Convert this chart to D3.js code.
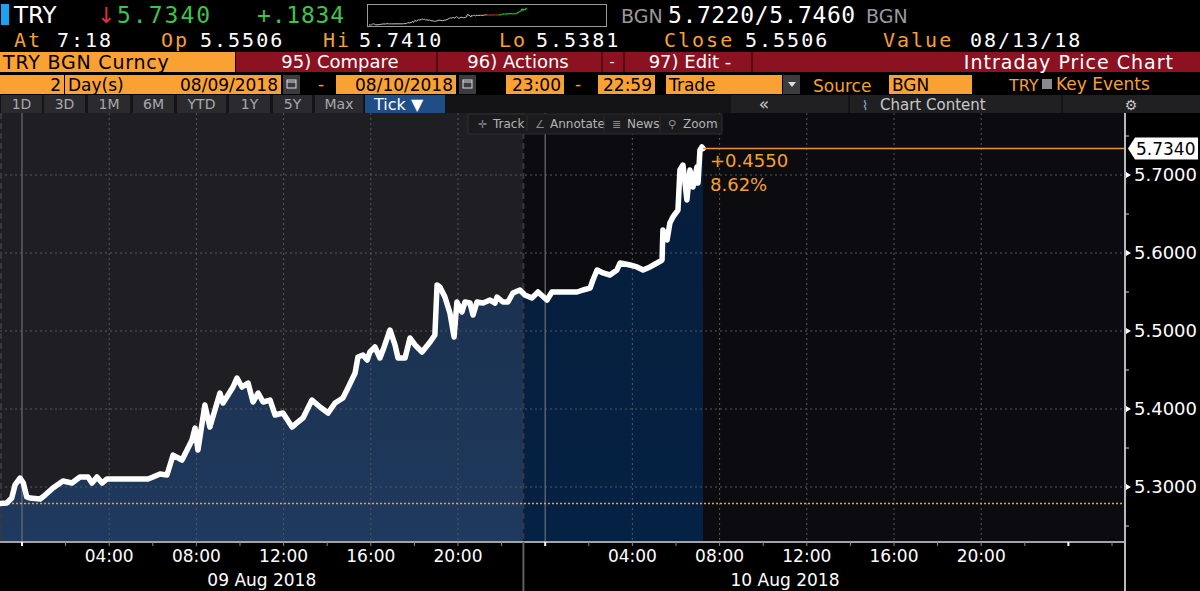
<!DOCTYPE html>
<html>
<head>
<meta charset="utf-8">
<script src="https://cdn.jsdelivr.net/npm/d3@7"></script>
<style>
  body { margin: 0; background: #000; }
  svg { display: block; }
  text { font-family: "DejaVu Sans", sans-serif; }
  .mono { font-family: "DejaVu Sans Mono", monospace; }
</style>
</head>
<body>
<svg width="1200" height="591"></svg>
<script>
// hours since 09 Aug 2018 00:00 and TRY BGN price
const hours = [-1.01,-0.70,-0.47,-0.32,-0.09,0.06,0.22,0.37,0.83,1.06,1.42,1.88,2.29,2.66,3.03,3.21,3.44,3.67,3.90,5.78,
  6.01,6.33,6.65,6.93,7.34,7.57,7.80,7.94,8.07,8.39,8.62,9.08,9.22,9.68,9.86,10.09,10.37,10.60,10.83,11.06,
  11.38,11.61,11.97,12.39,12.61,12.89,13.30,13.67,14.04,14.36,14.72,14.95,15.28,15.41,15.64,15.83,15.96,16.19,16.42,16.56,
  16.88,17.11,17.25,17.57,17.80,18.03,18.35,18.72,18.94,19.04,19.17,19.40,19.63,19.82,19.95,20.18,20.32,20.55,20.69,20.87,
  21.15,21.47,21.70,21.79,22.06,22.29,22.52,22.84,23.07,23.39,23.67,24.08,24.31,24.82,25.46,25.73,26.06,26.19,26.38,26.65,
  26.97,27.29,27.43,27.89,28.21,28.49,28.81,29.13,29.36,29.40,29.59,29.72,29.86,30.09,30.18,30.32,30.50,30.64,30.78,30.96,
  31.01,31.10,31.19,31.24];
const prices = [5.2790,5.2795,5.2859,5.3026,5.3115,5.3051,5.2872,5.2859,5.2846,5.2897,5.2987,5.3077,5.3051,5.3128,5.3128,5.3051,5.3128,5.3051,5.3103,5.3103,
  5.3128,5.3167,5.3154,5.3410,5.3346,5.3474,5.3603,5.3756,5.3474,5.4051,5.3769,5.4205,5.4077,5.4282,5.4397,5.4282,5.4333,5.4090,5.4205,5.4090,
  5.4115,5.3923,5.3949,5.3769,5.3821,5.3885,5.4115,5.4026,5.3949,5.4077,5.4141,5.4269,5.4462,5.4667,5.4692,5.4628,5.4731,5.4795,5.4654,5.4756,
  5.5013,5.4821,5.4654,5.4654,5.4910,5.4821,5.4731,5.4859,5.4949,5.5590,5.5564,5.5436,5.5231,5.4923,5.5372,5.5244,5.5372,5.5359,5.5205,5.5372,
  5.5359,5.5397,5.5359,5.5436,5.5372,5.5372,5.5487,5.5526,5.5462,5.5423,5.5500,5.5397,5.5500,5.5500,5.5500,5.5526,5.5551,5.5654,5.5782,5.5744,
  5.5718,5.5782,5.5872,5.5846,5.5821,5.5782,5.5821,5.5872,5.5910,5.6295,5.6167,5.6385,5.6462,5.6551,5.7064,5.7128,5.6679,5.7064,5.6846,5.7103,
  5.6897,5.7321,5.7359,5.7340];

const yTicks = [5.3, 5.4, 5.5, 5.6, 5.7];
const yMinor = [5.25, 5.35, 5.45, 5.55, 5.65, 5.75];
const xLabelHours = [4, 8, 12, 16, 20, 28, 32, 36, 40, 44];
const midnights = [0, 24];
const sessionStarts = [-1, 23];
const dayLabels = ["09 Aug 2018", "10 Aug 2018"];
const prevClose = 5.5506;
const lastPrice = 5.7340;
const netChange = "+0.4550";
const pctChange = "8.62%";

const data = d3.zip(hours, prices).map(d => ({h: d[0], v: d[1]}));
const startVal = data[0].v;
const last = data[data.length - 1];

const orange = '#f5a131';
const svg = d3.select('svg');

const pL = 0, pR = 1125, pT = 113, pB = 542;

const x = d3.scaleLinear().domain([-1.009, 50.596]).range([pL, pR]);
const y = d3.scaleLinear().domain([5.2295, 5.7795]).range([pB, pT]);

svg.append('rect').attr('width', 1200).attr('height', 591).attr('fill', '#000');

const defs = svg.append('defs');
const g1 = defs.append('linearGradient').attr('id', 'gA').attr('x1', 0).attr('x2', 0).attr('y1', 0).attr('y2', 1);
g1.append('stop').attr('offset', '0%').attr('stop-color', '#182c48');
g1.append('stop').attr('offset', '100%').attr('stop-color', '#1f3a5e');
const g2 = defs.append('linearGradient').attr('id', 'gB').attr('x1', 0).attr('x2', 0).attr('y1', 0).attr('y2', 1);
g2.append('stop').attr('offset', '0%').attr('stop-color', '#071d3b');
g2.append('stop').attr('offset', '100%').attr('stop-color', '#042244');

const split = x(sessionStarts[1]);
defs.append('clipPath').attr('id', 'cA').append('rect')
    .attr('x', pL).attr('y', pT).attr('width', split - pL).attr('height', pB - pT);
defs.append('clipPath').attr('id', 'cB').append('rect')
    .attr('x', split).attr('y', pT).attr('width', pR - split).attr('height', pB - pT);

// session backgrounds
svg.append('rect').attr('x', pL).attr('y', pT).attr('width', split - pL).attr('height', pB - pT).attr('fill', '#1f1e22');
svg.append('rect').attr('x', split).attr('y', pT).attr('width', pR - split).attr('height', pB - pT).attr('fill', '#0c0c10');

const area = d3.area().x(d => x(d.h)).y0(pB).y1(d => y(d.v));
svg.append('path').datum(data).attr('d', area).attr('fill', 'url(#gA)').attr('clip-path', 'url(#cA)');
svg.append('path').datum(data).attr('d', area).attr('fill', 'url(#gB)').attr('clip-path', 'url(#cB)');

// grid
svg.selectAll('.hgrid').data(yTicks).enter().append('line')
    .attr('x1', pL).attr('x2', pR).attr('y1', d => y(d)).attr('y2', d => y(d))
    .attr('stroke', '#56565c').attr('stroke-width', 1).attr('stroke-dasharray', '2,3');
svg.selectAll('.vgrid').data(xLabelHours).enter().append('line')
    .attr('x1', d => x(d)).attr('x2', d => x(d)).attr('y1', pT).attr('y2', pB)
    .attr('stroke', '#56565c').attr('stroke-width', 1).attr('stroke-dasharray', '2,3');
svg.selectAll('.mid').data(midnights).enter().append('line')
    .attr('x1', d => x(d)).attr('x2', d => x(d)).attr('y1', pT).attr('y2', pB)
    .attr('stroke', '#6e6e74').attr('stroke-width', 1.2);
svg.selectAll('.sess').data(sessionStarts).enter().append('line')
    .attr('x1', d => Math.max(x(d), 1)).attr('x2', d => Math.max(x(d), 1)).attr('y1', pT).attr('y2', pB)
    .attr('stroke', '#38383c').attr('stroke-width', 2).attr('stroke-dasharray', '6,4');

// start level
svg.append('line').attr('x1', pL).attr('x2', pR).attr('y1', y(startVal)).attr('y2', y(startVal))
    .attr('stroke', orange).attr('stroke-width', 1.5).attr('stroke-dasharray', '2,2');

// price line
svg.append('path').datum(data)
    .attr('d', d3.line().x(d => x(d.h)).y(d => y(d.v)))
    .attr('fill', 'none').attr('stroke', '#fff').attr('stroke-width', 5.5)
    .attr('stroke-linejoin', 'round').attr('stroke-linecap', 'round');

// last price marker
svg.append('line').attr('x1', x(last.h)).attr('x2', pR).attr('y1', y(last.v)).attr('y2', y(last.v))
    .attr('stroke', '#e8962a').attr('stroke-width', 1.5);
svg.append('text').attr('x', x(last.h) + 7).attr('y', y(last.v) + 19).attr('fill', orange).attr('font-size', 18).text(netChange);
svg.append('text').attr('x', x(last.h) + 7).attr('y', y(last.v) + 43).attr('fill', orange).attr('font-size', 18).text(pctChange);

// x axis
svg.append('line').attr('x1', pL).attr('x2', pR).attr('y1', pB).attr('y2', pB).attr('stroke', '#a4a4a8').attr('stroke-width', 2);
svg.selectAll('.xt').data(d3.range(0, 51, 2)).enter().append('line')
    .attr('x1', d => x(d)).attr('x2', d => x(d)).attr('y1', pB).attr('y2', pB + 4)
    .attr('stroke', d => d % 24 === 0 ? '#fff' : '#8a8a8a').attr('stroke-width', d => d % 24 === 0 ? 2 : 1);
svg.selectAll('.xl').data(xLabelHours).enter().append('text')
    .attr('x', d => x(d)).attr('y', 562).attr('text-anchor', 'middle').attr('fill', '#fff').attr('font-size', 17)
    .text(d => String(d % 24).padStart(2, '0') + ':00');
svg.selectAll('.dl').data(dayLabels).enter().append('text')
    .attr('x', (d, i) => (x(sessionStarts[i]) + x(sessionStarts[i] + 24)) / 2).attr('y', 586)
    .attr('text-anchor', 'middle').attr('fill', '#fff').attr('font-size', 17).text(d => d);
svg.append('line').attr('x1', split).attr('x2', split).attr('y1', pB).attr('y2', 591)
    .attr('stroke', '#606064').attr('stroke-width', 2);

// y axis (right)
svg.append('line').attr('x1', pR).attr('x2', pR).attr('y1', pT).attr('y2', 591).attr('stroke', '#b8b8bc').attr('stroke-width', 2);
svg.selectAll('.ym').data(yMinor).enter().append('line')
    .attr('x1', pR).attr('x2', pR + 4).attr('y1', d => y(d)).attr('y2', d => y(d)).attr('stroke', '#cfcfcf');
svg.selectAll('.ytri').data(yTicks).enter().append('path')
    .attr('d', d => `M${pR + 1},${y(d) - 3}L${pR + 6},${y(d)}L${pR + 1},${y(d) + 3}Z`).attr('fill', '#fff');
svg.selectAll('.yl').data(yTicks).enter().append('text')
    .attr('x', pR + 9).attr('y', d => y(d)).attr('dy', '0.36em').attr('fill', '#fff').attr('font-size', 18)
    .text(d => d.toFixed(4));
const ly = y(lastPrice);
svg.append('path').attr('d', `M${pR + 3},${ly}L${pR + 10},${ly - 11}H1198V${ly + 11}H${pR + 10}Z`).attr('fill', '#fff');
svg.append('text').attr('x', pR + 11).attr('y', ly).attr('dy', '0.36em').attr('fill', '#000').attr('font-size', 17).text(lastPrice.toFixed(4));

// chart toolbar overlay
const tb = svg.append('g');
tb.append('rect').attr('x', 468).attr('y', 114).attr('width', 254).attr('height', 20).attr('fill', '#1b1b1d').attr('stroke', '#2e2e30');
[[478, '✛', 'Track'], [535, '∠', 'Annotate'], [612, '≣', 'News'], [668, '⚲', 'Zoom']].forEach((t, i) => {
  tb.append('text').attr('x', t[0]).attr('y', 128).attr('fill', '#8a8a8a').attr('font-size', 11).text(t[1]);
  tb.append('text').attr('x', t[0] + 15).attr('y', 128).attr('fill', '#b4b4b4').attr('font-size', 12).text(t[2]);
  if (i > 0) tb.append('line').attr('x1', t[0] - 8).attr('x2', t[0] - 8).attr('y1', 116).attr('y2', 132).attr('stroke', '#2e2e30');
});

// ---------- header ----------
const hd = svg.append('g');
hd.append('rect').attr('x', 1).attr('y', 4).attr('width', 8).attr('height', 21).attr('fill', '#19a3f0');
hd.append('text').attr('x', 14).attr('y', 23).attr('fill', '#fff').attr('font-size', 23).text('TRY');
hd.append('text').attr('x', 97).attr('y', 23).attr('fill', '#e0303a').attr('font-size', 22).text('↓');
hd.append('text').attr('class', 'mono').attr('x', 117).attr('y', 23).attr('fill', '#3ec34a').attr('font-size', 23)
    .attr('letter-spacing', 2).text('5.7340');
hd.append('text').attr('class', 'mono').attr('x', 257).attr('y', 23).attr('fill', '#3ec34a').attr('font-size', 23)
    .attr('letter-spacing', 0.8).text('+.1834');

// sparkline box
hd.append('rect').attr('x', 367.5).attr('y', 4.5).attr('width', 239).attr('height', 22).attr('fill', '#000').attr('stroke', '#9a9a9a');
const sx = d3.scaleLinear().domain([-1.01, 47]).range([369, 604]);
const sy = d3.scaleLinear().domain(d3.extent(prices)).range([25, 8]);
const day1 = data.filter(d => d.h <= sessionStarts[1] + 0.1);
hd.append('path').datum(day1).attr('d', d3.line().x(d => sx(d.h)).y(d => sy(d.v)))
    .attr('fill', 'none').attr('stroke', '#c8c8c8').attr('stroke-width', 1);
const day2 = data.filter(d => d.h >= day1[day1.length - 1].h);
d3.pairs(day2).forEach(p => {
  hd.append('line').attr('x1', sx(p[0].h)).attr('y1', sy(p[0].v)).attr('x2', sx(p[1].h)).attr('y2', sy(p[1].v))
    .attr('stroke', (p[0].v + p[1].v) / 2 >= prevClose ? '#2fc22f' : '#d0202a').attr('stroke-width', 1.2);
});

hd.append('text').attr('x', 621).attr('y', 23).attr('fill', '#9a9a9a').attr('font-size', 19).text('BGN');
hd.append('text').attr('class', 'mono').attr('x', 668).attr('y', 23).attr('fill', '#fff').attr('font-size', 23)
    .attr('letter-spacing', 0.6).text('5.7220/5.7460');
hd.append('text').attr('x', 866).attr('y', 23).attr('fill', '#9a9a9a').attr('font-size', 19).text('BGN');

const row2 = [[14, 'At', 1], [57, '7:18', 0], [161, 'Op', 1], [200, '5.5506', 0], [323, 'Hi', 1], [359, '5.7410', 0],
  [499, 'Lo', 1], [536, '5.5381', 0], [664, 'Close', 1], [745, '5.5506', 0], [883, 'Value', 1], [970, '08/13/18', 0]];
row2.forEach(t => hd.append('text').attr('class', 'mono').attr('x', t[0]).attr('y', 47).attr('letter-spacing', 2)
    .attr('fill', t[2] ? orange : '#fff').attr('font-size', 20).text(t[1]));

// row 3 : menu bar
hd.append('rect').attr('x', 0).attr('y', 52).attr('width', 235).attr('height', 20).attr('fill', '#f9a132');
hd.append('text').attr('x', 3).attr('y', 69).attr('fill', '#000').attr('font-size', 19).attr('letter-spacing', 0.8).text('TRY BGN Curncy');
hd.append('rect').attr('x', 236).attr('y', 52).attr('width', 964).attr('height', 20).attr('fill', '#8c1222');
[437, 602, 624, 752].forEach(d => hd.append('line').attr('x1', d).attr('x2', d).attr('y1', 52).attr('y2', 72).attr('stroke', '#5a0a14').attr('stroke-width', 2));
hd.append('text').attr('x', 340).attr('y', 68).attr('text-anchor', 'middle').attr('fill', '#fff').attr('font-size', 18).text('95) Compare');
hd.append('text').attr('x', 518).attr('y', 68).attr('text-anchor', 'middle').attr('fill', '#fff').attr('font-size', 18).text('96) Actions');
hd.append('text').attr('x', 612).attr('y', 67).attr('text-anchor', 'middle').attr('fill', '#fff').attr('font-size', 14).text('-');
hd.append('text').attr('x', 690).attr('y', 68).attr('text-anchor', 'middle').attr('fill', '#fff').attr('font-size', 18).text('97) Edit  -');
hd.append('text').attr('x', 1174).attr('y', 69).attr('text-anchor', 'end').attr('fill', '#fff').attr('font-size', 19)
    .attr('letter-spacing', 1).text('Intraday Price Chart');

// row 4 : range fields
const fields = [[0, 64, '2', 'end'], [65, 92, 'Day(s)', 'start'], [157, 124, '08/09/2018', 'end'], [336, 120, '08/10/2018', 'end'],
  [506, 58, '23:00', 'end'], [598, 57, '22:59', 'end'], [666, 116, 'Trade', 'start'], [889, 83, 'BGN', 'start']];
fields.forEach(f => {
  hd.append('rect').attr('x', f[0]).attr('y', 75).attr('width', f[1]).attr('height', 19).attr('fill', '#f9a132');
  hd.append('text').attr('x', f[3] === 'end' ? f[0] + f[1] - 3 : f[0] + 3).attr('y', 91).attr('text-anchor', f[3])
      .attr('fill', '#000').attr('font-size', 17).text(f[2]);
});
[283, 459].forEach(c => {
  hd.append('rect').attr('x', c).attr('y', 75).attr('width', 17).attr('height', 19).attr('fill', '#3c3c40');
  hd.append('rect').attr('x', c + 4).attr('y', 80).attr('width', 9).attr('height', 8).attr('fill', 'none').attr('stroke', '#ddd');
  hd.append('line').attr('x1', c + 4).attr('x2', c + 13).attr('y1', 82).attr('y2', 82).attr('stroke', '#ddd');
});
hd.append('rect').attr('x', 783).attr('y', 75).attr('width', 17).attr('height', 19).attr('fill', '#3c3c40');
hd.append('path').attr('d', 'M788,82L796,82L792,87Z').attr('fill', '#ddd');
[318, 575].forEach(t => hd.append('text').attr('x', t).attr('y', 90).attr('fill', orange).attr('font-size', 17).text('-'));
hd.append('text').attr('x', 813).attr('y', 92).attr('fill', orange).attr('font-size', 17).text('Source');
hd.append('text').attr('x', 1009).attr('y', 91).attr('fill', orange).attr('font-size', 16).text('TRY');
hd.append('rect').attr('x', 1042).attr('y', 79).attr('width', 10).attr('height', 10).attr('fill', '#8a8a8e');
hd.append('text').attr('x', 1056).attr('y', 90).attr('fill', orange).attr('font-size', 17).text('Key Events');

// row 5 : period buttons
hd.append('rect').attr('x', 0).attr('y', 95).attr('width', 1200).attr('height', 18).attr('fill', '#141416');
const btns = [[1, 41, '1D'], [44, 41, '3D'], [88, 42, '1M'], [133, 41, '6M'], [177, 49, 'YTD'], [229, 41, '1Y'], [273, 39, '5Y'], [315, 48, 'Max']];
btns.forEach(b => {
  hd.append('rect').attr('x', b[0]).attr('y', 95).attr('width', b[1]).attr('height', 18).attr('fill', '#2b2b2f');
  hd.append('text').attr('x', b[0] + b[1] / 2).attr('y', 109).attr('text-anchor', 'middle').attr('fill', '#a8a8ac').attr('font-size', 14).text(b[2]);
});
hd.append('rect').attr('x', 365).attr('y', 95).attr('width', 80).attr('height', 18).attr('fill', '#1f4e86');
hd.append('text').attr('x', 374).attr('y', 110).attr('fill', '#fff').attr('font-size', 16).text('Tick ▼');
[[731, 117], [850, 211], [1063, 137]].forEach(b => hd.append('rect').attr('x', b[0]).attr('y', 95).attr('width', b[1]).attr('height', 18).attr('fill', '#202023'));
hd.append('text').attr('x', 764).attr('y', 110).attr('text-anchor', 'middle').attr('fill', '#c8c8c8').attr('font-size', 17).text('«');
hd.append('text').attr('x', 862).attr('y', 110).attr('fill', '#8ab4e0').attr('font-size', 13).text('⌇');
hd.append('text').attr('x', 880).attr('y', 110).attr('fill', '#c8c8c8').attr('font-size', 15).text('Chart Content');
hd.append('text').attr('x', 1131).attr('y', 110).attr('text-anchor', 'middle').attr('fill', '#c8c8c8').attr('font-size', 14).text('⚙');
</script>
</body>
</html>
